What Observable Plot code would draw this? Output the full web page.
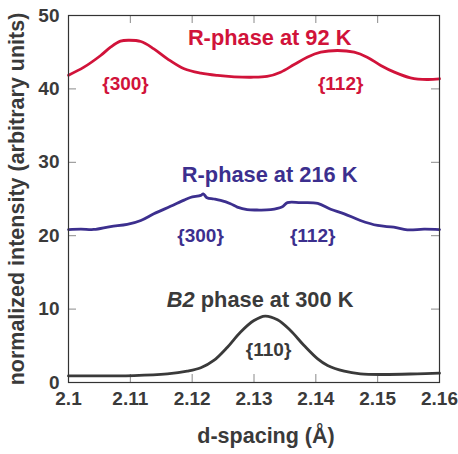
<!DOCTYPE html>
<html>
<head>
<meta charset="utf-8">
<script src="https://cdn.jsdelivr.net/npm/d3@7"></script>
<script src="https://cdn.jsdelivr.net/npm/@observablehq/plot@0.6"></script>
<style>
  html, body { margin: 0; padding: 0; background: #fff; }
  #chart svg { display: block; }
</style>
</head>
<body>
<div id="chart"></div>
<script>
// ---- data ----
const xTicks = [2.1, 2.11, 2.12, 2.13, 2.14, 2.15, 2.16];
const yTicks = [0, 10, 20, 30, 40, 50];

const r92D = [2.1000, 2.1025, 2.1052, 2.1068, 2.1084, 2.1097, 2.1117, 2.1138, 2.1160, 2.1187, 2.1214, 2.1241, 2.1268, 2.1295, 2.1321, 2.1343, 2.1365, 2.1386, 2.1408, 2.1435, 2.1462, 2.1483, 2.1505, 2.1527, 2.1553, 2.1580, 2.1600];
const r92I = [41.87, 42.96, 44.55, 45.68, 46.50, 46.63, 46.46, 45.46, 44.10, 42.74, 42.14, 41.83, 41.65, 41.59, 41.69, 42.28, 43.32, 44.32, 45.00, 45.23, 45.00, 44.32, 43.19, 42.28, 41.51, 41.28, 41.38];

const r216D = [2.1000, 2.1020, 2.1041, 2.1068, 2.1095, 2.1117, 2.1138, 2.1165, 2.1187, 2.1197, 2.1214, 2.1218, 2.1224, 2.1235, 2.1246, 2.1262, 2.1273, 2.1289, 2.1305, 2.1327, 2.1345, 2.1354, 2.1375, 2.1403, 2.1424, 2.1446, 2.1472, 2.1500, 2.1526, 2.1548, 2.1575, 2.1600];
const r216I = [20.84, 20.90, 20.85, 21.25, 21.53, 22.07, 22.98, 24.00, 24.85, 25.20, 25.50, 25.70, 25.16, 25.00, 24.80, 24.35, 23.90, 23.55, 23.50, 23.55, 23.90, 24.50, 24.50, 24.40, 23.60, 22.98, 22.07, 21.39, 21.16, 20.80, 20.89, 20.84];

const b2D = [2.1000, 2.1106, 2.1160, 2.1192, 2.1214, 2.1235, 2.1257, 2.1278, 2.1300, 2.1318, 2.1338, 2.1359, 2.1381, 2.1403, 2.1419, 2.1446, 2.1472, 2.1508, 2.1564, 2.1600];
const b2I = [0.90, 0.95, 1.18, 1.54, 2.00, 3.00, 4.81, 6.86, 8.45, 9.05, 8.54, 7.08, 5.04, 3.22, 2.32, 1.54, 1.18, 1.09, 1.18, 1.27];

const seriesNames = ["R-phase at 92 K", "R-phase at 216 K", "B2 phase at 300 K"];
const seriesColors = ["#d1133a", "#3c2f8e", "#3a3a3a"];

const titleText = ["R-phase at 92 K", "R-phase at 216 K", "B2 phase at 300 K"];
const titleD = [2.13253, 2.13253, 2.13099];
const titleI = [47.0, 28.2, 11.3];

const peakText = ["{300}", "{112}", "{300}", "{112}", "{110}"];
const peakD = [2.10922, 2.14401, 2.12136, 2.13948, 2.13236];
const peakI = [40.7, 40.7, 20.0, 20.0, 4.5];
const peakSeries = [0, 0, 1, 1, 2];

const xLabel = "d-spacing (Å)";
const yLabel = "normalized intensity (arbitrary units)";

// ---- build tables ----
const lines = [
  ...r92D.map((d, i) => ({s: seriesNames[0], d, v: r92I[i]})),
  ...r216D.map((d, i) => ({s: seriesNames[1], d, v: r216I[i]})),
  ...b2D.map((d, i) => ({s: seriesNames[2], d, v: b2I[i]}))
];
const titles = titleText.map((t, i) => ({t, d: titleD[i], v: titleI[i], c: seriesColors[i]}));
const peaks = peakText.map((t, i) => ({t, d: peakD[i], v: peakI[i], c: seriesColors[peakSeries[i]]}));

const fmt = d => String(+d.toFixed(2));
const tickColor = "#8a8a8a";
const textColor = "#3a3a3a";

const svg = Plot.plot({
  width: 458,
  height: 454,
  marginLeft: 68,
  marginRight: 19,
  marginTop: 15,
  marginBottom: 72,
  style: {fontFamily: "'Liberation Sans', Arial, sans-serif", fontWeight: "bold", color: textColor, background: "#fff", overflow: "visible"},
  x: {domain: [2.1, 2.16]},
  y: {domain: [0, 50]},
  color: {domain: seriesNames, range: seriesColors},
  marks: [
    // inward tick marks on all four sides
    Plot.tickX(xTicks, {x: d => d, insetTop: 359, stroke: tickColor, strokeWidth: 1}),
    Plot.tickX(xTicks, {x: d => d, insetBottom: 359, stroke: tickColor, strokeWidth: 1}),
    Plot.tickY(yTicks, {y: d => d, insetRight: 363, stroke: tickColor, strokeWidth: 1}),
    Plot.tickY(yTicks, {y: d => d, insetLeft: 363, stroke: tickColor, strokeWidth: 1}),
    Plot.axisX({ticks: xTicks, tickSize: 0, tickPadding: 9, tickFormat: fmt, fontSize: 19, fill: textColor, label: null}),
    Plot.axisY({ticks: yTicks, tickSize: 0, tickPadding: 9, fontSize: 19, fill: textColor, label: null}),
    Plot.line(lines, {x: "d", y: "v", z: "s", stroke: "s", strokeWidth: 2.8, curve: "catmull-rom"}),
    Plot.frame({stroke: "#333", strokeWidth: 1.2}),
    Plot.text(titles, {x: "d", y: "v", text: "t", fill: "c", fontSize: 21.8, fontWeight: "bold"}),
    Plot.text(peaks, {x: "d", y: "v", text: "t", fill: "c", fontSize: 19, fontWeight: "bold"}),
    Plot.text([xLabel], {frameAnchor: "bottom", text: d => d, lineAnchor: "middle", textAnchor: "middle", dy: 54, dx: 12, fontSize: 21.5, fontWeight: "bold", fill: textColor}),
    Plot.text([yLabel], {frameAnchor: "left", text: d => d, textAnchor: "middle", lineAnchor: "middle", rotate: -90, dx: -51, fontSize: 21.5, fontWeight: "bold", fill: textColor})
  ]
});

// italicise "B2" inside the third series title
d3.select(svg).selectAll("text").each(function() {
  const el = d3.select(this);
  if (el.text() === titleText[2]) {
    el.text(null);
    el.append("tspan").attr("font-style", "italic").text("B2");
    el.append("tspan").text(" phase at 300 K");
  }
});

document.getElementById("chart").appendChild(svg);
</script>
</body>
</html>
